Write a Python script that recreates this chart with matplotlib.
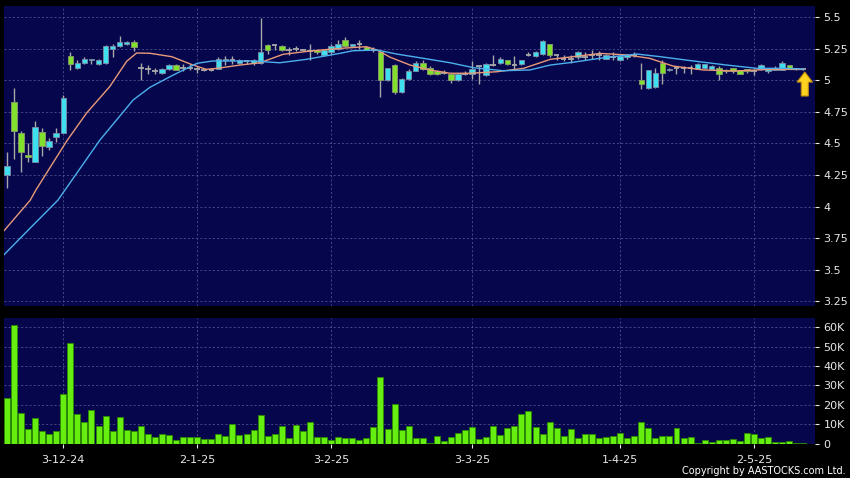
"""
Daily candlestick chart with 2 moving averages and volume, AASTOCKS style
(21-11-2024 to 14-5-2025, 114 trading days).
"""
import numpy as np
import matplotlib
matplotlib.use('Agg')
import matplotlib.pyplot as plt
from matplotlib.patches import FancyArrow

# OHLC per trading day
opens = [4.25, 4.83, 4.58, 4.41, 4.35, 4.59, 4.47, 4.55, 4.58, 5.19,
         5.10, 5.14, 5.16, 5.13, 5.14, 5.25, 5.27, 5.29, 5.30, 5.10,
         5.09, 5.07, 5.06, 5.09, 5.12, 5.10, 5.10, 5.09, 5.08, 5.08,
         5.09, 5.16, 5.16, 5.14, 5.15, 5.14, 5.14, 5.28, 5.28, 5.27,
         5.24, 5.25, 5.24, 5.23, 5.24, 5.20, 5.22, 5.25, 5.32, 5.27,
         5.29, 5.26, 5.24, 5.22, 5.00, 5.12, 4.91, 5.01, 5.07, 5.14,
         5.10, 5.07, 5.06, 5.05, 5.00, 5.05, 5.05, 5.11, 5.04, 5.12,
         5.14, 5.16, 5.12, 5.13, 5.20, 5.19, 5.21, 5.29, 5.20, 5.17,
         5.17, 5.18, 5.18, 5.20, 5.20, 5.17, 5.18, 5.16, 5.18, 5.20,
         5.00, 4.94, 4.95, 5.14, 5.08, 5.10, 5.10, 5.10, 5.09, 5.10,
         5.09, 5.10, 5.08, 5.10, 5.08, 5.09, 5.07, 5.09, 5.07, 5.08,
         5.08, 5.12, 5.09, 5.09]
highs = [4.43, 4.94, 4.60, 4.50, 4.68, 4.62, 4.54, 4.62, 4.88, 5.22,
         5.16, 5.18, 5.17, 5.17, 5.28, 5.29, 5.35, 5.31, 5.32, 5.14,
         5.12, 5.10, 5.10, 5.13, 5.13, 5.13, 5.13, 5.11, 5.09, 5.09,
         5.18, 5.19, 5.19, 5.17, 5.16, 5.17, 5.49, 5.29, 5.28, 5.28,
         5.26, 5.27, 5.25, 5.29, 5.24, 5.25, 5.29, 5.32, 5.34, 5.29,
         5.32, 5.27, 5.26, 5.23, 5.10, 5.13, 5.02, 5.09, 5.15, 5.16,
         5.11, 5.08, 5.08, 5.05, 5.06, 5.07, 5.15, 5.11, 5.14, 5.20,
         5.18, 5.16, 5.19, 5.16, 5.22, 5.23, 5.32, 5.29, 5.21, 5.20,
         5.20, 5.23, 5.22, 5.24, 5.23, 5.21, 5.22, 5.20, 5.21, 5.22,
         5.14, 5.08, 5.10, 5.16, 5.10, 5.11, 5.11, 5.12, 5.14, 5.13,
         5.12, 5.11, 5.09, 5.10, 5.08, 5.09, 5.09, 5.13, 5.10, 5.11,
         5.15, 5.12, 5.10, 5.10]
lows = [4.15, 4.38, 4.27, 4.35, 4.35, 4.40, 4.45, 4.51, 4.58, 5.08,
        5.09, 5.13, 5.13, 5.12, 5.13, 5.18, 5.26, 5.28, 5.23, 5.00,
        5.05, 5.05, 5.05, 5.08, 5.08, 5.07, 5.08, 5.06, 5.07, 5.07,
        5.09, 5.12, 5.13, 5.13, 5.13, 5.12, 5.13, 5.21, 5.24, 5.23,
        5.20, 5.23, 5.23, 5.16, 5.21, 5.19, 5.21, 5.24, 5.26, 5.26,
        5.25, 5.24, 5.22, 4.87, 4.99, 4.89, 4.90, 5.00, 5.07, 5.08,
        5.04, 5.04, 5.05, 4.98, 4.99, 5.04, 5.01, 4.97, 5.03, 5.11,
        5.13, 5.12, 5.08, 5.12, 5.19, 5.18, 5.20, 5.18, 5.16, 5.15,
        5.14, 5.17, 5.16, 5.17, 5.16, 5.17, 5.16, 5.15, 5.17, 5.18,
        4.93, 4.93, 4.94, 4.97, 5.07, 5.05, 5.06, 5.05, 5.09, 5.09,
        5.09, 5.00, 5.06, 5.06, 5.05, 5.06, 5.04, 5.08, 5.06, 5.08,
        5.08, 5.09, 5.08, 5.08]
closes = [4.32, 4.60, 4.43, 4.39, 4.63, 4.48, 4.52, 4.58, 4.86, 5.13,
          5.14, 5.17, 5.17, 5.16, 5.27, 5.27, 5.30, 5.30, 5.26, 5.10,
          5.09, 5.07, 5.09, 5.12, 5.08, 5.10, 5.10, 5.09, 5.08, 5.08,
          5.17, 5.17, 5.16, 5.16, 5.15, 5.16, 5.22, 5.24, 5.28, 5.24,
          5.24, 5.25, 5.24, 5.23, 5.22, 5.24, 5.27, 5.29, 5.27, 5.29,
          5.29, 5.24, 5.24, 5.00, 5.10, 4.91, 5.01, 5.07, 5.14, 5.09,
          5.05, 5.05, 5.06, 5.00, 5.05, 5.05, 5.09, 5.11, 5.13, 5.12,
          5.17, 5.13, 5.12, 5.16, 5.20, 5.22, 5.31, 5.20, 5.20, 5.17,
          5.17, 5.22, 5.18, 5.20, 5.20, 5.20, 5.18, 5.19, 5.20, 5.20,
          4.97, 5.08, 5.06, 5.06, 5.09, 5.10, 5.10, 5.10, 5.13, 5.13,
          5.11, 5.05, 5.07, 5.07, 5.05, 5.07, 5.07, 5.12, 5.09, 5.10,
          5.14, 5.09, 5.09, 5.09]
# volume in thousands of shares
volume_k = [23.6, 61.0, 15.9, 7.6, 13.3, 6.2, 5.0, 6.7, 25.7, 51.9,
            15.0, 11.2, 17.1, 8.8, 14.0, 6.7, 13.6, 7.1, 6.2, 8.8,
            5.0, 3.3, 5.0, 4.5, 1.6, 3.6, 3.1, 3.6, 2.4, 2.4,
            5.0, 4.1, 10.2, 4.3, 4.8, 7.2, 14.5, 3.8, 5.0, 9.0,
            2.9, 9.8, 6.7, 10.9, 3.6, 3.4, 1.9, 3.6, 2.6, 2.6,
            1.9, 2.8, 8.3, 34.3, 7.4, 20.5, 7.1, 8.8, 2.8, 2.8,
            0.5, 3.8, 1.2, 3.6, 5.3, 7.2, 8.6, 2.2, 3.1, 8.8,
            4.5, 8.1, 9.1, 15.4, 16.6, 8.3, 5.0, 10.9, 7.8, 4.1,
            7.4, 2.6, 4.7, 4.7, 2.8, 3.3, 3.8, 5.3, 2.9, 4.0,
            10.9, 7.8, 2.9, 4.1, 4.1, 7.8, 2.6, 3.6, 0.3, 1.9,
            0.7, 1.9, 1.6, 2.4, 1.2, 5.2, 5.0, 2.8, 3.1, 1.0,
            1.0, 1.2, 0.5, 0.5]

# moving averages, sampled along the picture (bar index, price)
ma_short_idx = [-0.4, 3.3, 4.1, 8.5, 11.3, 14.6, 17.0, 18.4, 20.3, 23.4,
                26.4, 28.3, 29.8, 33.1, 35.9, 39.2, 43.4, 47.3, 51.0, 52.5,
                54.4, 57.2, 60.0, 62.9, 65.7, 69.5, 73.3, 77.1, 80.3, 84.2,
                87.9, 91.2, 94.5, 98.8, 103.5, 108.3, 113.0]
ma_short_val = [3.81, 4.05, 4.13, 4.52, 4.74, 4.95, 5.15, 5.215, 5.213, 5.186,
                5.12, 5.086, 5.094, 5.12, 5.138, 5.205, 5.233, 5.252, 5.265, 5.239,
                5.181, 5.12, 5.081, 5.055, 5.055, 5.067, 5.094, 5.165, 5.186, 5.212,
                5.20, 5.173, 5.112, 5.081, 5.073, 5.086, 5.085]
ma_long_idx = [-0.4, 3.3, 7.25, 13.2, 17.9, 20.3, 23.6, 27.0, 29.2, 34.9,
               38.7, 42.5, 47.3, 49.1, 52.5, 55.3, 59.1, 62.9, 66.2, 70.4,
               74.2, 77.1, 80.3, 85.1, 89.4, 92.7, 97.4, 102.1, 106.4, 110.6,
               113.0]
ma_long_val = [3.62, 3.83, 4.052, 4.527, 4.843, 4.944, 5.041, 5.134, 5.152, 5.152,
               5.138, 5.165, 5.213, 5.233, 5.239, 5.207, 5.173, 5.138, 5.099, 5.075,
               5.081, 5.12, 5.142, 5.181, 5.207, 5.186, 5.152, 5.12, 5.094, 5.094,
               5.089]

date_tick_idx = [8, 27, 46, 66, 87, 106]
date_tick_labels = ['3-12-24', '2-1-25', '3-2-25', '3-3-25', '1-4-25', '2-5-25']
price_ticks = [3.25, 3.5, 3.75, 4.0, 4.25, 4.5, 4.75, 5.0, 5.25, 5.5]
price_tick_labels = ['3.25', '3.5', '3.75', '4', '4.25', '4.5', '4.75', '5', '5.25', '5.5']
vol_ticks = [0, 10, 20, 30, 40, 50, 60]
vol_tick_labels = ['0', '10K', '20K', '30K', '40K', '50K', '60K']

# colours
BG = '#06064c'
CYAN = '#3ee0f0'
GREEN = '#80e02c'
GREY = '#a8a8a8'
VOL = '#66ee11'
GRID = '#50508c'
TXT = '#e8e8e8'

plt.rcParams['font.family'] = 'DejaVu Sans'

fig = plt.figure(figsize=(8.5, 4.78), dpi=100, facecolor='black')
ax_p = fig.add_axes([4 / 850, 1 - 306 / 478, 811 / 850, 300 / 478])
ax_v = fig.add_axes([4 / 850, 1 - 443.5 / 478, 811 / 850, 125.5 / 478], sharex=ax_p)

for ax in (ax_p, ax_v):
    ax.set_facecolor(BG)
    for s in ax.spines.values():
        s.set_visible(False)
    ax.set_axisbelow(True)
    ax.grid(True, color=GRID, linestyle=(0, (2.5, 2.5)), linewidth=0.6)
    ax.tick_params(axis='y', which='both', left=False, labelleft=False,
                   right=True, labelright=True, direction='out', length=3,
                   pad=3, colors=TXT, labelsize=8)

# candles
idx = np.arange(len(closes))
o = np.array(opens)
h = np.array(highs)
l = np.array(lows)
c = np.array(closes)
up = c > o
down = c < o
flat = c == o

ax_p.vlines(idx, l, h, color=GREY, lw=1, zorder=2)
ax_p.bar(idx[up], (c - o)[up], bottom=o[up], width=0.78, color=CYAN,
         edgecolor='#7c8ca4', lw=0.6, zorder=3)
ax_p.bar(idx[down], (o - c)[down], bottom=c[down], width=0.78, color=GREEN,
         edgecolor='#8c9a70', lw=0.6, zorder=3)
ax_p.hlines(c[flat], idx[flat] - 0.39, idx[flat] + 0.39, color=GREY, lw=1.3, zorder=3)

ax_p.plot(ma_short_idx, ma_short_val, color='#e89a78', lw=1, zorder=4)
ax_p.plot(ma_long_idx, ma_long_val, color='#4cb0ee', lw=1, zorder=4)

# yellow arrow under the last close
last = len(closes) - 1
ax_p.add_patch(FancyArrow(last + 0.2, closes[-1] - 0.215, 0, 0.19, width=1.0,
                          head_width=2.2, head_length=0.08, length_includes_head=True,
                          fc='#ffd21f', ec='#c08a10', lw=0.8, zorder=5))

ax_p.set_xlim(-0.41, 114.65)
ax_p.set_ylim(3.214, 5.587)
ax_p.set_yticks(price_ticks)
ax_p.set_yticklabels(price_tick_labels)
ax_p.set_xticks(date_tick_idx)
ax_p.tick_params(axis='x', bottom=False, labelbottom=False)

# volume
ax_v.bar(idx, volume_k, width=0.85, color=VOL, edgecolor='#2c8a00', lw=0.6, zorder=3)
ax_v.set_ylim(0, 64.8)
ax_v.set_yticks(vol_ticks)
ax_v.set_yticklabels(vol_tick_labels)
ax_v.set_xticks(date_tick_idx)
ax_v.set_xticklabels(date_tick_labels)
ax_v.tick_params(axis='x', direction='out', length=3, pad=5, colors=TXT, labelsize=8)

fig.text(846 / 850, 2 / 478, 'Copyright by AASTOCKS.com Ltd.', ha='right', va='bottom',
         color='white', fontsize=7)

fig.savefig('out.png', dpi=100, facecolor='black')
